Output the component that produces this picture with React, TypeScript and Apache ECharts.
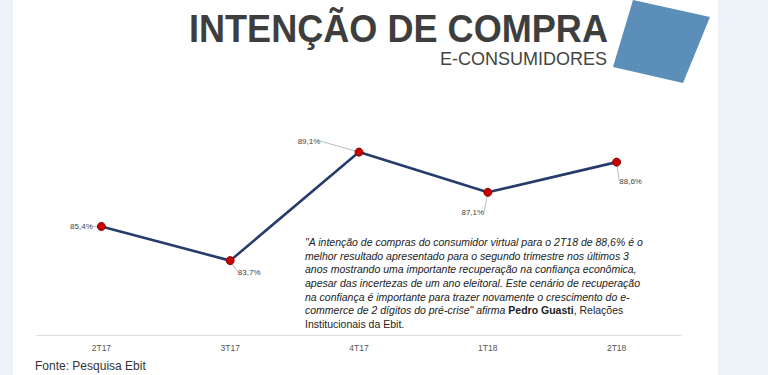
import React, { useEffect, useRef } from "react";
import * as echarts from "echarts";

const categories = ["2T17", "3T17", "4T17", "1T18", "2T18"];
const values = [85.4, 83.7, 89.1, 87.1, 88.6];
const labelOffsets: [number, number][] = [
  [-20, 0],
  [19, 12],
  [-50, -11],
  [-15, 20],
  [14, 19],
];
const titleText = "INTENÇÃO DE COMPRA";
const subtitleText = "E-CONSUMIDORES";
const sourceText = "Fonte: Pesquisa Ebit";
const quoteLines = [
  "{i|\"A intenção de compras do consumidor virtual para o 2T18 de 88,6% é o}",
  "{i|melhor resultado apresentado para o segundo trimestre nos últimos 3}",
  "{i|anos mostrando uma importante recuperação na confiança econômica,}",
  "{i|apesar das incertezas de um ano eleitoral. Este cenário de recuperação}",
  "{i|na confiança é importante para trazer novamente o crescimento do e-}",
  "{i|commerce de 2 dígitos do pré-crise\" afirma }{b|Pedro Guasti}{n|, Relações}",
  "{n|Institucionais da Ebit.}",
];

export default function App() {
  const ref = useRef<HTMLDivElement>(null);
  useEffect(() => {
    const chart = echarts.init(ref.current!, null, { renderer: "svg" });
    const quoteFont = { fontFamily: "Liberation Sans", fontSize: 10.5, color: "#222", lineHeight: 13.7 };
    chart.setOption({
      animation: false,
      backgroundColor: "#ffffff",
      grid: { left: 37, right: 87, top: 134, height: 201 },
      xAxis: {
        type: "category",
        data: categories,
        boundaryGap: true,
        axisLine: { lineStyle: { color: "#dedede", width: 1 } },
        axisTick: { show: false },
        axisLabel: { fontFamily: "Liberation Sans", fontSize: 8.5, color: "#555", margin: 8 },
      },
      yAxis: { type: "value", min: 80, max: 90, show: false, splitLine: { show: false } },
      series: [
        {
          type: "line",
          data: values,
          symbol: "circle",
          symbolSize: 8,
          lineStyle: { color: "#263c6b", width: 2.6 },
          itemStyle: { color: "#c80000", borderColor: "#8a0000", borderWidth: 1 },
          label: {
            show: true,
            position: "inside",
            fontFamily: "Liberation Sans",
            fontSize: 8,
            color: "#444",
            textBorderWidth: 0,
            formatter: (p: any) => String(p.value.toFixed(1)).replace(".", ",") + "%",
          },
          labelLayout: (p: any) => ({ dx: labelOffsets[p.dataIndex][0], dy: labelOffsets[p.dataIndex][1] }),
          labelLine: { show: true, lineStyle: { color: "#aaa", width: 0.8 } },
        },
      ],
      graphic: [
        { type: "rect", silent: true, shape: { x: 0, y: 0, width: 13, height: 375 }, style: { fill: "#edf2f9" } },
        { type: "rect", silent: true, shape: { x: 718, y: 0, width: 50, height: 375 }, style: { fill: "#edf2f9" } },
        {
          type: "polygon",
          silent: true,
          shape: { points: [[633, 0], [710, 17], [683, 83], [613, 67]] },
          style: { fill: "#5b8fba" },
        },
        {
          type: "text",
          x: 608,
          y: 28.5,
          scaleX: 0.95,
          style: {
            text: titleText,
            align: "right",
            verticalAlign: "middle",
            fontFamily: "Liberation Sans",
            fontWeight: "bold",
            fontSize: 38,
            fill: "#3e3e3e",
          },
        },
        {
          type: "text",
          x: 607,
          y: 59,
          style: {
            text: subtitleText,
            align: "right",
            verticalAlign: "middle",
            fontFamily: "Liberation Sans",
            fontSize: 18,
            fill: "#444",
          },
        },
        {
          type: "text",
          x: 305,
          y: 235,
          style: {
            text: quoteLines.join("\n"),
            fontFamily: "Liberation Sans",
            fontSize: 10.5,
            lineHeight: 13.7,
            fill: "#222",
            rich: {
              i: { ...quoteFont, fontStyle: "italic" },
              b: { ...quoteFont, fontWeight: "bold" },
              n: { ...quoteFont },
            },
          },
        },
        {
          type: "text",
          x: 35,
          y: 366,
          style: {
            text: sourceText,
            verticalAlign: "middle",
            fontFamily: "Liberation Sans",
            fontSize: 12,
            fill: "#333",
          },
        },
      ],
    });
    return () => chart.dispose();
  }, []);
  return <div ref={ref} style={{ position: "fixed", left: 0, top: 0, width: 768, height: 375 }} />;
}
